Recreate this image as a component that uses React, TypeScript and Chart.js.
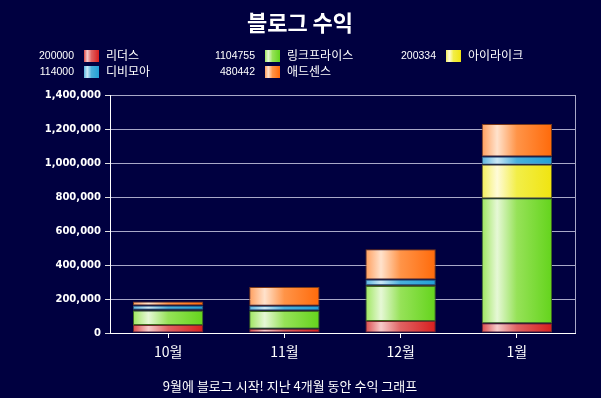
import React, { useEffect, useRef } from "react";
import { Chart, registerables } from "chart.js";
Chart.register(...registerables);

const categories = ["10월", "11월", "12월", "1월"];
const seriesNames = ["리더스", "링크프라이스", "아이라이크", "디비모아", "애드센스"];
const legendTotals = ["200000", "1104755", "200334", "114000", "480442"];
const leaders = [47000, 25000, 70000, 58000];
const linkprice = [86000, 104000, 206000, 735000];
const ilike = [4000, 3000, 5000, 198000];
const dbmoa = [25000, 29000, 33000, 47000];
const adsense = [24000, 110000, 178000, 191000];
const yMax = 1400000;
const yStep = 200000;
const titleText = "블로그 수익";
const subtitleText = "9월에 블로그 시작! 지난 4개월 동안 수익 그래프";

const seriesValues = [leaders, linkprice, ilike, dbmoa, adsense];

const palettes = [
  { left: "#dc4a4a", hl: "#f6caca", mid: "#e06262", right: "#d81e1e", border: "#6e2a2a" },
  { left: "#9ee65e", hl: "#e6f8d6", mid: "#96e258", right: "#64d41c", border: "#3f6a22" },
  { left: "#f2ee5a", hl: "#fffbd8", mid: "#f2ee48", right: "#f0e410", border: "#6a6420" },
  { left: "#5ab4de", hl: "#cae8f6", mid: "#4ab0dc", right: "#22a0d6", border: "#2a5a7a" },
  { left: "#ff9e5c", hl: "#ffe2cc", mid: "#ff9448", right: "#ff6a0a", border: "#7a3a1a" },
];

const BG = "#000040";
const BAR_FRACTION = 0.605;

function makeGradient(ctx: CanvasRenderingContext2D, x0: number, x1: number, p: any) {
  if (!isFinite(x0) || !isFinite(x1) || x1 <= x0) return p.right;
  const g = ctx.createLinearGradient(x0, 0, x1, 0);
  g.addColorStop(0, p.left);
  g.addColorStop(0.22, p.hl);
  g.addColorStop(0.5, p.mid);
  g.addColorStop(1, p.right);
  return g;
}

const decorPlugin = {
  id: "decor",
  beforeDraw(chart: any) {
    const ctx = chart.ctx;
    ctx.save();
    ctx.fillStyle = BG;
    ctx.fillRect(0, 0, chart.width, chart.height);
    ctx.restore();
  },
  afterDraw(chart: any) {
    const ctx = chart.ctx as CanvasRenderingContext2D;
    const ca = chart.chartArea;
    ctx.save();
    ctx.strokeStyle = "#a8a8c8";
    ctx.lineWidth = 1;
    ctx.beginPath();
    ctx.moveTo(Math.round(ca.right) + 0.5, ca.top);
    ctx.lineTo(Math.round(ca.right) + 0.5, ca.bottom);
    ctx.stroke();

    ctx.fillStyle = "#ffffff";
    ctx.textAlign = "center";
    ctx.textBaseline = "middle";
    ctx.font = "bold 22px 'Noto Sans CJK KR'";
    ctx.fillText(titleText, 300, 23);

    const colNumRight = [74, 255, 436];
    const rowY = [56, 72];
    seriesNames.forEach((name, i) => {
      const col = i % 3;
      const row = Math.floor(i / 3);
      const y = rowY[row];
      const nr = colNumRight[col];
      ctx.font = "10.5px 'Liberation Sans'";
      ctx.textAlign = "right";
      ctx.textBaseline = "middle";
      ctx.fillStyle = "#ffffff";
      ctx.fillText(legendTotals[i], nr, y);
      const sx = nr + 10;
      ctx.fillStyle = makeGradient(ctx, sx, sx + 15, palettes[i]);
      ctx.fillRect(sx, y - 6, 15, 12);
      ctx.fillStyle = "#ffffff";
      ctx.textAlign = "left";
      ctx.font = "12px 'Noto Sans CJK KR'";
      ctx.fillText(name, sx + 22, y - 1);
    });

    ctx.textAlign = "center";
    ctx.font = "13px 'Noto Sans CJK KR'";
    ctx.fillStyle = "#ffffff";
    ctx.fillText(subtitleText, 290, 386);
    ctx.restore();
  },
};

export default function App() {
  const ref = useRef<HTMLCanvasElement | null>(null);
  useEffect(() => {
    document.body.style.margin = "0";
    const canvas = ref.current!;
    const datasets = seriesNames.map((name, i) => {
      const p = palettes[i];
      return {
        label: name,
        data: seriesValues[i],
        stack: "s",
        borderColor: p.border,
        borderWidth: 1,
        borderSkipped: false,
        backgroundColor: (c: any) => {
          const chart = c.chart;
          const xs = chart.scales && chart.scales.x;
          if (!xs || c.dataIndex === undefined) return p.right;
          const cx = xs.getPixelForValue(c.dataIndex);
          const w = (xs.width / categories.length) * BAR_FRACTION;
          return makeGradient(chart.ctx, cx - w / 2, cx + w / 2, p);
        },
      };
    });
    const chart = new Chart(canvas, {
      type: "bar",
      data: { labels: categories, datasets },
      options: {
        responsive: false,
        animation: false,
        devicePixelRatio: 1,
        layout: { padding: { top: 95, left: 0, right: 26, bottom: 0 } },
        datasets: { bar: { categoryPercentage: 1, barPercentage: BAR_FRACTION } },
        plugins: {
          legend: { display: false },
          title: { display: false },
          tooltip: { enabled: false },
        },
        scales: {
          x: {
            stacked: true,
            offset: true,
            afterFit: (s: any) => { s.height = 65; },
            grid: {
              display: true,
              drawOnChartArea: false,
              drawTicks: true,
              tickLength: 5,
              tickColor: "#ffffff",
              offset: false,
            },
            border: { display: true, color: "#ffffff", width: 1 },
            ticks: {
              color: "#ffffff",
              padding: 5,
              font: { family: "'Noto Sans CJK KR'", size: 14 },
            },
          },
          y: {
            stacked: true,
            min: 0,
            max: yMax,
            afterFit: (s: any) => { s.width = 110; },
            grid: {
              color: "#a8a8c8",
              lineWidth: 1,
              tickLength: 5,
              tickColor: "#e0e0e0",
            },
            border: { display: true, color: "#ffffff", width: 1 },
            ticks: {
              stepSize: yStep,
              color: "#ffffff",
              padding: 4,
              font: { family: "'DejaVu Sans'", size: 10, weight: "bold" },
              callback: (v: any) => Number(v).toLocaleString("en-US"),
            },
          },
        },
      },
      plugins: [decorPlugin],
    } as any);
    return () => chart.destroy();
  }, []);
  return (
    <div style={{ width: 601, height: 398, background: BG }}>
      <canvas ref={ref} width={601} height={398} style={{ display: "block" }} />
    </div>
  );
}
